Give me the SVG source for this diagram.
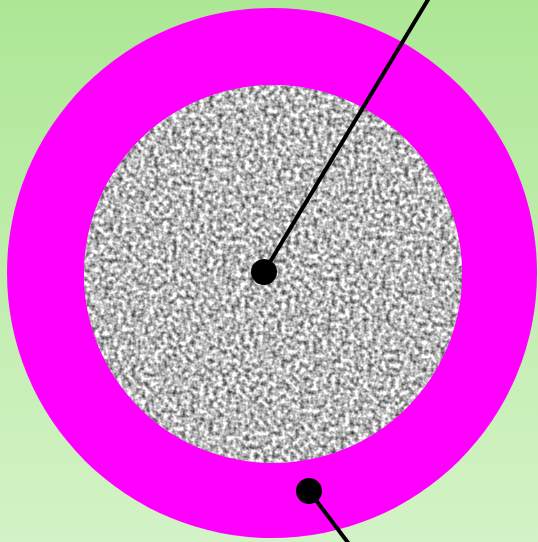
<svg xmlns="http://www.w3.org/2000/svg" width="538" height="542" viewBox="0 0 538 542">
  <defs>
    <linearGradient id="bg" x1="0" y1="0" x2="0" y2="1">
      <stop offset="0" stop-color="#ade795"/>
      <stop offset="1" stop-color="#d3f3c6"/>
    </linearGradient>
    <filter id="noise" x="0" y="0" width="100%" height="100%" color-interpolation-filters="sRGB">
      <feTurbulence type="fractalNoise" baseFrequency="0.22" numOctaves="2" seed="3" result="t"/>
      <feColorMatrix in="t" type="matrix" values="1.35 0 0 0 0.05  1.35 0 0 0 0.05  1.35 0 0 0 0.05  0 0 0 0 1" result="g"/>
      <feComposite in="g" in2="SourceGraphic" operator="in"/>
    </filter>
    <style>
      .lead { stroke: #000; stroke-width: 4; fill: none; }
      .dot { fill: #000; }
    </style>
  </defs>
  <rect width="538" height="542" fill="url(#bg)"/>
  <g id="outer-ring">
    <circle cx="272" cy="273" r="265" fill="#ff00ff"/>
  </g>
  <g id="core">
    <circle cx="273" cy="274" r="189" fill="#aaaaaa"/>
    <circle cx="273" cy="274" r="189" fill="#fff" filter="url(#noise)"/>
  </g>
  <g id="connectors">
    <line class="lead" x1="264" y1="272" x2="429" y2="-2"/>
    <circle class="dot" cx="264" cy="272" r="13"/>
    <line class="lead" x1="309" y1="491" x2="349" y2="544"/>
    <circle class="dot" cx="309" cy="491" r="13"/>
  </g>
</svg>
